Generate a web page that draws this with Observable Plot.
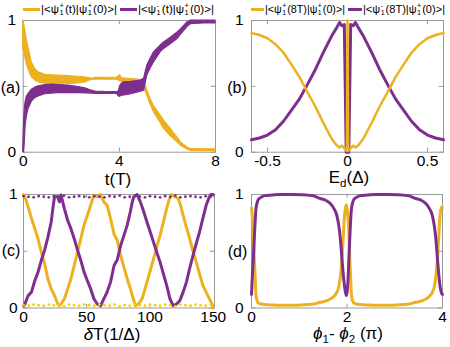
<!DOCTYPE html>
<html><head><meta charset="utf-8">
<script src="https://cdn.jsdelivr.net/npm/d3@7"></script>
<script src="https://cdn.jsdelivr.net/npm/@observablehq/plot@0.6"></script>
<style>
body{margin:0;background:#fff;}
#wrap{position:relative;width:450px;height:347px;overflow:hidden;font-family:"Liberation Sans",Arial,sans-serif;color:#000;}
.pl{position:absolute;}
.lab{position:absolute;white-space:nowrap;line-height:1;transform:translate(-50%,-50%);}
.leg{position:absolute;white-space:nowrap;font-size:11px;line-height:1;height:16px;}
.sw{position:absolute;top:7px;height:3px;}
.lt{position:absolute;top:0;display:flex;align-items:center;height:16px;transform-origin:0 50%;}
.ss{display:inline-flex;flex-direction:column;font-size:0.64em;margin:0 1px 0 0.5px;}
.ss span{display:block;line-height:1;}
.sub{font-size:0.68em;vertical-align:-0.35em;}
</style></head><body><div id="wrap"></div><script>
const YEL = "#EDB120", PUR = "#7E2F8E", GRID = "#999";

// ---- panel (a): time evolution bands (lower / upper envelopes)
const tA     = [0,0.03,0.05,0.08,0.1,0.15,0.22,0.36,0.5,0.64,0.92,1.2,1.47,1.9,2.3,2.58,2.86,3.0,3.5,3.9,3.97,4.03,4.1,4.17,4.5,4.9,5.03,5.16,5.3,5.44,5.72,5.86,6.14,6.42,6.55,6.83,6.97,7.5,8];
const yelHiA = [1.0,0.98,0.96,0.935,0.91,0.85,0.795,0.68,0.63,0.606,0.588,0.584,0.581,0.577,0.573,0.568,0.558,0.565,0.565,0.566,0.575,0.585,0.565,0.56,0.555,0.55,0.54,0.47,0.404,0.35,0.278,0.24,0.177,0.11,0.076,0.035,0.025,0.022,0.022];
const yelLoA = [0.78,0.77,0.757,0.725,0.707,0.67,0.63,0.568,0.545,0.53,0.52,0.515,0.515,0.518,0.523,0.53,0.55,0.552,0.55,0.55,0.545,0.54,0.535,0.535,0.53,0.525,0.49,0.43,0.36,0.303,0.22,0.177,0.12,0.076,0.05,0.02,0.01,0.008,0.008];
const purHiA = [0.0,0.2,0.28,0.354,0.38,0.42,0.441,0.475,0.49,0.5,0.51,0.513,0.51,0.505,0.495,0.485,0.467,0.46,0.457,0.457,0.46,0.5,0.52,0.53,0.535,0.543,0.56,0.657,0.71,0.758,0.81,0.833,0.87,0.909,0.93,0.985,1.0,1.0,1.0];
const purLoA = [0.0,0.0,0.025,0.12,0.2,0.27,0.328,0.384,0.41,0.424,0.44,0.445,0.449,0.449,0.448,0.447,0.445,0.443,0.443,0.443,0.425,0.42,0.43,0.43,0.44,0.46,0.467,0.581,0.635,0.682,0.76,0.783,0.82,0.859,0.89,0.95,0.972,0.978,0.978];

// ---- panel (b): overlap at 8T vs detuning
const eB   = [-0.6,-0.55,-0.5,-0.45,-0.4,-0.35,-0.3,-0.25,-0.2,-0.15,-0.1,-0.07,-0.05,-0.035,-0.02,-0.008,-0.004,0,0.004,0.008,0.02,0.035,0.05,0.07,0.1,0.15,0.2,0.25,0.3,0.35,0.4,0.45,0.5,0.55,0.6];
const yelB = [0.905,0.89,0.865,0.82,0.755,0.665,0.57,0.455,0.345,0.22,0.105,0.055,0.035,0.05,0.03,0.015,0.01,1.0,0.01,0.015,0.03,0.05,0.035,0.055,0.105,0.22,0.345,0.455,0.57,0.665,0.755,0.82,0.865,0.89,0.905];
const purB = [0.094,0.108,0.13,0.17,0.235,0.32,0.405,0.515,0.63,0.76,0.88,0.94,0.985,0.96,0.97,0.0,0.0,0.0,0.0,0.0,0.97,0.96,0.985,0.94,0.88,0.76,0.63,0.515,0.405,0.32,0.235,0.17,0.13,0.108,0.094];

// ---- panel (c): vs delta T
const xPurC = [0,1.1,3.7,6.3,8.9,11.5,14.1,16.7,19.3,21.9,23.2,24.5,27.1,28.4,29.7,32.3,34.9,37.5,40.1,42.7,45.3,47.9,50.5,53.1,55.7,58.3,60.9,63.5,66.1,68.8,71.6,74,76.8,79.4,82,84.5,86,87.2,89.8,92.4,95,97.6,100.2,102.8,105.4,108,110.6,113.2,115.8,118.4,121,123.6,126.2,128.8,131.4,134,136.6,139.2,141.8,144.4,147,148.3,150];
const vPurC = [0.02,0.035,0.11,0.14,0.24,0.316,0.42,0.51,0.625,0.758,0.876,0.98,0.98,0.935,0.995,0.876,0.773,0.699,0.61,0.51,0.42,0.316,0.24,0.168,0.08,0.035,0.02,0.08,0.14,0.228,0.375,0.42,0.55,0.64,0.73,0.85,0.935,0.98,1.0,0.935,0.85,0.758,0.67,0.58,0.49,0.404,0.3,0.2,0.08,0.02,0.035,0.065,0.14,0.228,0.35,0.463,0.57,0.67,0.79,0.905,0.98,1.0,1.0];
const xYelC = [0,1.1,3.7,6.3,8.9,11.5,14.1,16.7,19.3,21.9,24.5,27.1,28.4,29.7,32.3,34.9,37.5,40.1,42.7,45.3,47.9,50.5,53.1,55.7,58.3,60.9,63.5,66.1,68.8,71.6,74,76.8,79.4,82,84.5,86,88.5,91,93.7,95.6,97.6,100.2,102.8,105.4,108,110.6,113.2,115,117.1,119.7,122.3,124.3,126.2,128.8,131.4,134,136.6,139.2,141.8,144.4,147,149.6,150];
const vYelC = [1.0,0.98,0.89,0.79,0.7,0.61,0.49,0.39,0.257,0.168,0.11,0.035,0.02,0.035,0.08,0.168,0.257,0.375,0.49,0.61,0.73,0.817,0.905,0.995,0.98,1.0,0.935,0.905,0.79,0.65,0.6,0.463,0.36,0.257,0.17,0.11,0.02,0.035,0.08,0.15,0.228,0.33,0.433,0.54,0.64,0.76,0.876,0.95,1.0,0.98,0.965,0.9,0.817,0.71,0.61,0.5,0.404,0.3,0.2,0.14,0.08,0.02,0.0];
const xDotC = [0,4,8,12,16,20,24,28,32,36,40,44,48,52,56,60,64,68,72,76,80,84,88,92,96,100,104,108,112,116,120,124,128,132,136,140,144,148];
const vDotPurC = [0.985,0.98,0.975,0.985,0.98,0.975,0.985,0.98,0.99,0.975,0.98,0.985,0.98,0.975,0.985,0.98,0.975,0.985,0.98,0.99,0.975,0.98,0.985,0.98,0.975,0.985,0.98,0.975,0.985,0.98,0.99,0.975,0.98,0.985,0.98,0.975,0.985,0.98];
const vDotYelC = [0.025,0.02,0.03,0.025,0.02,0.03,0.025,0.02,0.015,0.03,0.025,0.02,0.03,0.025,0.02,0.03,0.025,0.02,0.03,0.015,0.025,0.02,0.03,0.025,0.02,0.03,0.025,0.02,0.03,0.025,0.015,0.03,0.025,0.02,0.03,0.025,0.02,0.03];

// ---- panel (d): vs phase difference
const phiD = [0,0.02,0.04,0.057,0.075,0.092,0.12,0.14,0.2,0.28,0.43,0.6,0.85,1.05,1.27,1.44,1.55,1.65,1.72,1.79,1.83,1.862,1.897,1.918,1.946,1.967,1.987,2.005,2.02,2.036,2.057,2.075,2.092,2.12,2.14,2.2,2.28,2.43,2.6,2.85,3.05,3.27,3.44,3.55,3.65,3.72,3.79,3.83,3.862,3.897,3.918,3.946,3.967,3.987,4.0];
const yelD = [0.88,0.78,0.62,0.45,0.3,0.12,0.06,0.045,0.035,0.03,0.027,0.025,0.025,0.027,0.033,0.05,0.06,0.08,0.1,0.14,0.19,0.28,0.45,0.6,0.8,0.88,0.91,0.86,0.8,0.7,0.45,0.28,0.12,0.06,0.045,0.035,0.03,0.027,0.025,0.025,0.027,0.033,0.05,0.06,0.08,0.1,0.14,0.19,0.28,0.45,0.6,0.8,0.87,0.89,0.88];
const purD = [0.12,0.3,0.45,0.6,0.75,0.87,0.93,0.954,0.975,0.99,0.995,1.0,1.0,0.998,0.99,0.965,0.95,0.92,0.88,0.81,0.72,0.605,0.42,0.314,0.2,0.14,0.11,0.15,0.23,0.4,0.6,0.76,0.87,0.93,0.954,0.975,0.99,0.995,1.0,1.0,0.998,0.99,0.965,0.95,0.92,0.88,0.81,0.72,0.605,0.42,0.314,0.2,0.15,0.125,0.12];

const xTicksA = [0,4,8], xTicksB = [-0.5,0,0.5], xTicksC = [0,50,100,150], xTicksD = [0,2,4];
const yTicks = [0,1], yInner = [0,0.5,1];

const wrap = document.getElementById("wrap");
const idx = n => d3.range(n);

function innerTicks(xt, xd, yd) {
  const fx = (xd[1]-xd[0])*0.022, fy = (yd[1]-yd[0])*0.032;
  return [
    Plot.ruleX(xt, {x: d=>d, y1: yd[0], y2: yd[0]+fy, stroke: GRID}),
    Plot.ruleX(xt, {x: d=>d, y1: yd[1], y2: yd[1]-fy, stroke: GRID}),
    Plot.ruleY(yInner, {y: d=>d, x1: xd[0], x2: xd[0]+fx, stroke: GRID}),
    Plot.ruleY(yInner, {y: d=>d, x1: xd[1], x2: xd[1]-fx, stroke: GRID})
  ];
}

function panel(o) {
  const svg = Plot.plot({
    width: o.width, height: o.height,
    marginLeft: o.ml, marginRight: o.mr, marginTop: o.mt, marginBottom: o.mb,
    x: {domain: o.xd}, y: {domain: [0,1]},
    style: {background: "transparent", fontFamily: "Liberation Sans, Arial, sans-serif", fontSize: "15.5px", overflow: "visible", color: "#000"},
    marks: [
      Plot.frame({stroke: GRID}),
      ...innerTicks(o.xt, o.xd, [0,1]),
      ...o.marks,
      Plot.axisX({ticks: o.xt, tickSize: 0, tickPadding: 3, label: null, tickFormat: d => String(d), fill: "#000"}),
      Plot.axisY({ticks: yTicks, tickSize: 0, tickPadding: o.yp, label: null, tickFormat: d => String(d), fill: "#000"})
    ]
  });
  svg.classList.add("pl");
  svg.style.left = o.left + "px";
  svg.style.top = o.top + "px";
  wrap.appendChild(svg);
}

// (a)
panel({left: 0, top: 0, width: 225, height: 190, ml: 22.7, mr: 10, mt: 20, mb: 38.3, xd: [0,8], xt: xTicksA, yp: 7,
  marks: [
    Plot.areaY(idx(tA.length), {x: i=>tA[i], y1: i=>yelLoA[i], y2: i=>yelHiA[i], fill: YEL, stroke: YEL, strokeWidth: 1.2}),
    Plot.areaY(idx(tA.length), {x: i=>tA[i], y1: i=>purLoA[i], y2: i=>purHiA[i], fill: PUR, stroke: PUR, strokeWidth: 1.2})
  ]});
// (b)
panel({left: 225, top: 0, width: 225, height: 190, ml: 26, mr: 7, mt: 20, mb: 38.3, xd: [-0.6,0.6], xt: xTicksB, yp: 8,
  marks: [
    Plot.line(idx(eB.length), {x: i=>eB[i], y: i=>purB[i], stroke: PUR, strokeWidth: 3}),
    Plot.line(idx(eB.length), {x: i=>eB[i], y: i=>yelB[i], stroke: YEL, strokeWidth: 2.5})
  ]});
// (c)
panel({left: 0, top: 172, width: 225, height: 175, ml: 23, mr: 11, mt: 22, mb: 39.5, xd: [0,151], xt: xTicksC, yp: 6,
  marks: [
    Plot.line(idx(xYelC.length), {x: i=>xYelC[i], y: i=>vYelC[i], stroke: YEL, strokeWidth: 3}),
    Plot.line(idx(xPurC.length), {x: i=>xPurC[i], y: i=>vPurC[i], stroke: PUR, strokeWidth: 3}),
    Plot.dot(idx(xDotC.length), {x: i=>xDotC[i], y: i=>vDotPurC[i], r: 1.4, fill: PUR, stroke: null}),
    Plot.dot(idx(xDotC.length), {x: i=>xDotC[i], y: i=>vDotYelC[i], r: 1.4, fill: "#F5D000", stroke: null})
  ]});
// (d)
panel({left: 225, top: 172, width: 225, height: 175, ml: 26, mr: 8, mt: 22, mb: 39.5, xd: [0,4], xt: xTicksD, yp: 8,
  marks: [
    Plot.line(idx(phiD.length), {x: i=>phiD[i], y: i=>yelD[i], stroke: YEL, strokeWidth: 3, curve: "monotone-x"}),
    Plot.line(idx(phiD.length), {x: i=>phiD[i], y: i=>purD[i], stroke: PUR, strokeWidth: 3, curve: "monotone-x"})
  ]});

// text overlays
const ss = (sup, sub) => `<span class="ss"><span>${sup}</span><span>${sub}</span></span>`;
function addHTML(cls, x, y, html, extra) {
  const d = document.createElement("div");
  d.className = cls; d.innerHTML = html;
  d.style.left = x + "px"; d.style.top = y + "px";
  if (extra) Object.assign(d.style, extra);
  wrap.appendChild(d);
  return d;
}
// legend entry: swatch from x0 to x1, text from x1+1 fitted to end at x2
function legend(color, x0, x1, x2, html) {
  const d = addHTML("leg", 0, 1, "");
  const s = document.createElement("span");
  s.className = "sw"; s.style.background = color; s.style.left = x0 + "px"; s.style.width = (x1 - x0) + "px";
  d.appendChild(s);
  const t = document.createElement("span");
  t.className = "lt"; t.innerHTML = html; t.style.left = (x1 + 1) + "px";
  d.appendChild(t);
  const w = t.getBoundingClientRect().width;
  t.style.transform = `scaleX(${(x2 - x1 - 1) / w})`;
}
legend(YEL, 23, 40, 117, `|&lt;ψ${ss("+","1")}(t)|ψ${ss("+","1")}(0)&gt;|`);
legend(PUR, 120, 137, 214, `|&lt;ψ${ss("-","1")}(t)|ψ${ss("+","1")}(0)&gt;|`);
legend(YEL, 251, 264, 345, `|&lt;ψ${ss("+","1")}(8T)|ψ${ss("+","1")}(0)&gt;|`);
legend(PUR, 348, 362, 445, `|&lt;ψ${ss("-","1")}(8T)|ψ${ss("+","1")}(0)&gt;|`);

const big = {fontSize: "17px"}, mid = {fontSize: "16px"};
addHTML("lab", 118, 179, "t(T)", big);
addHTML("lab", 349, 179, `E<span class="sub">d</span>(Δ)`, big);
addHTML("lab", 112, 334, `<i>δ</i>T(1/Δ)`, big);
addHTML("lab", 348, 335, `<i>ϕ</i><span class="sub">1</span>- <i>ϕ</i><span class="sub">2</span> (π)`, big);
addHTML("lab", 10.5, 88, "(a)", mid);
addHTML("lab", 237, 88, "(b)", mid);
addHTML("lab", 11, 251, "(c)", mid);
addHTML("lab", 237.5, 252, "(d)", mid);
</script></body></html>
